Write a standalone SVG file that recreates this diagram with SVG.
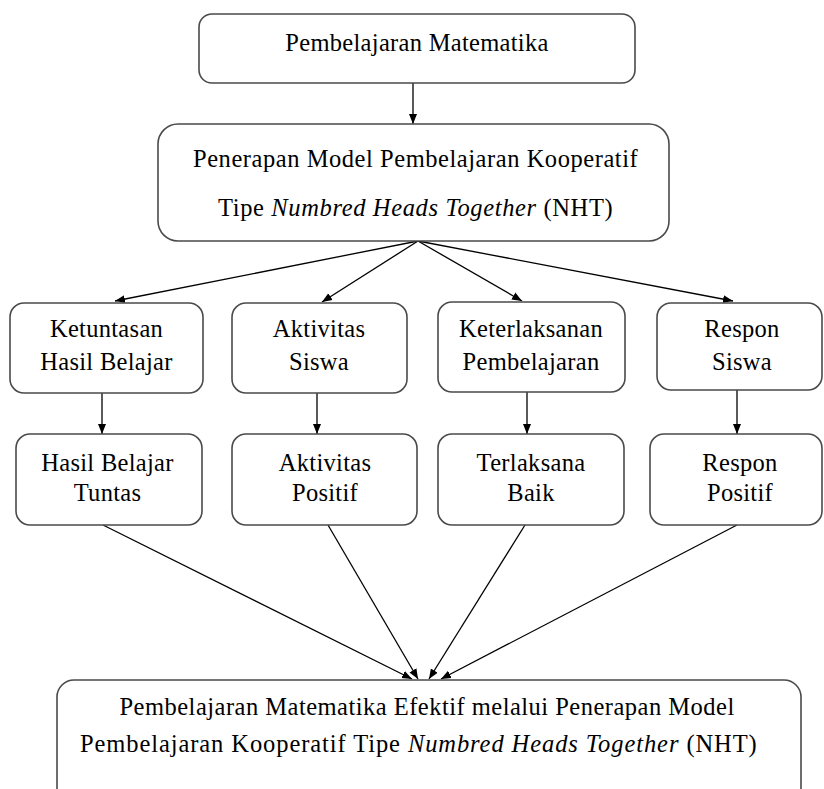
<svg xmlns="http://www.w3.org/2000/svg" width="824" height="789" viewBox="0 0 824 789">
<style>
.box{fill:#fff;stroke:#4a4a4a;stroke-width:1.6}
.t{font-family:"Liberation Serif","Times New Roman",serif;font-size:24.5px;fill:#000;text-anchor:middle;letter-spacing:0.3px}
.i{font-style:italic}
.c{stroke:#000;stroke-width:1.3;fill:none;marker-end:url(#ah)}
</style>
<defs>
<marker id="ah" viewBox="0 0 10 10" refX="10" refY="5" markerWidth="10" markerHeight="10" markerUnits="userSpaceOnUse" orient="auto">
<path d="M0,1 L10,5 L0,9 Z" fill="#000"/>
</marker>
</defs>
<rect width="824" height="789" fill="#fff"/>
<g id="connectors">
<line class="c" x1="413" y1="83" x2="413" y2="124"/>
<line class="c" x1="418" y1="241" x2="115" y2="301"/>
<line class="c" x1="418" y1="241" x2="322" y2="302"/>
<line class="c" x1="418" y1="241" x2="522" y2="301"/>
<line class="c" x1="418" y1="241" x2="733" y2="301"/>
<line class="c" x1="102" y1="393" x2="102" y2="434"/>
<line class="c" x1="317" y1="393" x2="317" y2="434"/>
<line class="c" x1="527" y1="392" x2="527" y2="434"/>
<line class="c" x1="737" y1="390" x2="737" y2="434"/>
<line class="c" x1="103" y1="525" x2="412" y2="679"/>
<line class="c" x1="328" y1="525" x2="418" y2="679"/>
<line class="c" x1="525" y1="525" x2="429" y2="679"/>
<line class="c" x1="737" y1="525" x2="441" y2="679"/>
</g>
<g id="n1">
<rect class="box" x="199" y="14" width="436" height="69" rx="13"/>
<text class="t" x="417" y="51">Pembelajaran Matematika</text>
</g>
<g id="n2">
<rect class="box" x="158" y="124" width="511" height="117" rx="20"/>
<text class="t" x="415.5" y="167" textLength="445" lengthAdjust="spacing">Penerapan Model Pembelajaran Kooperatif</text>
<text class="t" x="415.5" y="216" textLength="395" lengthAdjust="spacing">Tipe <tspan class="i">Numbred Heads Together</tspan> (NHT)</text>
</g>
<g id="n3">
<rect class="box" x="10" y="303" width="193" height="90" rx="14"/>
<text class="t" x="106.5" y="337">Ketuntasan</text>
<text class="t" x="106.5" y="370">Hasil Belajar</text>
</g>
<g id="n4">
<rect class="box" x="232" y="303" width="175" height="90" rx="14"/>
<text class="t" x="319" y="337">Aktivitas</text>
<text class="t" x="319" y="370">Siswa</text>
</g>
<g id="n5">
<rect class="box" x="438" y="302" width="187" height="90" rx="14"/>
<text class="t" x="531" y="337">Keterlaksanan</text>
<text class="t" x="531" y="370">Pembelajaran</text>
</g>
<g id="n6">
<rect class="box" x="657" y="303" width="165" height="87" rx="14"/>
<text class="t" x="742" y="337">Respon</text>
<text class="t" x="742" y="370">Siswa</text>
</g>
<g id="n7">
<rect class="box" x="16" y="434" width="186" height="91" rx="14"/>
<text class="t" x="107.5" y="471">Hasil Belajar</text>
<text class="t" x="107.5" y="501">Tuntas</text>
</g>
<g id="n8">
<rect class="box" x="232" y="434" width="185" height="91" rx="14"/>
<text class="t" x="325" y="471">Aktivitas</text>
<text class="t" x="325" y="501">Positif</text>
</g>
<g id="n9">
<rect class="box" x="438" y="434" width="186" height="91" rx="14"/>
<text class="t" x="531" y="471">Terlaksana</text>
<text class="t" x="531" y="501">Baik</text>
</g>
<g id="n10">
<rect class="box" x="650" y="434" width="172" height="91" rx="14"/>
<text class="t" x="740" y="471">Respon</text>
<text class="t" x="740" y="501">Positif</text>
</g>
<g id="n11">
<rect class="box" x="57" y="680" width="744" height="125" rx="17"/>
<text class="t" x="427" y="715" textLength="615" lengthAdjust="spacing">Pembelajaran Matematika Efektif melalui Penerapan Model</text>
<text class="t" x="418.5" y="752" textLength="677" lengthAdjust="spacing">Pembelajaran Kooperatif Tipe <tspan class="i">Numbred Heads Together</tspan> (NHT)</text>
</g>
</svg>
